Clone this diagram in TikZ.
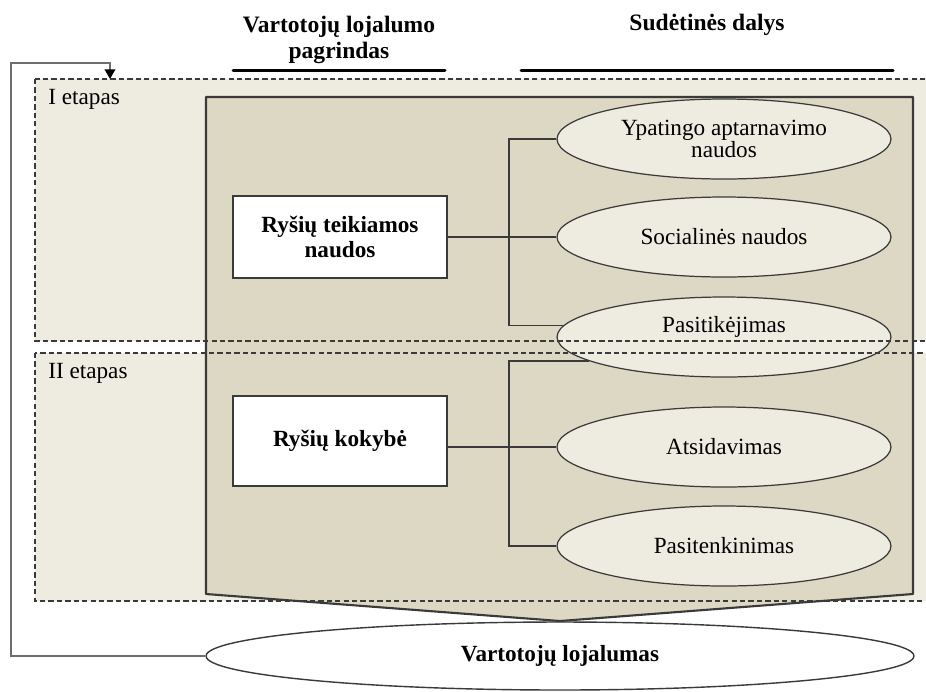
\documentclass[tikz,border=0pt]{standalone}
\usepackage{fontspec}
\setmainfont{Liberation Serif}
\usepackage{tkz-euclide}
\usetikzlibrary{shapes.geometric,arrows.meta}

\definecolor{etapfill}{HTML}{EEEBE0}
\definecolor{chevfill}{HTML}{DDD8C3}
\definecolor{linegray}{HTML}{3A3A3A}
\definecolor{backgray}{HTML}{6E6E6E}

\tikzset{
  txt/.style={inner sep=0pt, font=\fontsize{13.2}{13.5}\selectfont},
  hdr/.style={inner sep=0pt, align=center, font=\fontsize{13.4}{14.8}\selectfont\bfseries},
  part/.style={ellipse, draw=linegray, line width=0.7pt, fill=etapfill,
    minimum width=6.68cm, minimum height=1.6cm, inner sep=0pt, align=center,
    font=\fontsize{13.2}{13}\selectfont},
  basis/.style={rectangle, draw=linegray, line width=0.7pt, fill=white,
    minimum width=4.28cm, inner sep=0pt, align=center,
    font=\fontsize{13.2}{13.8}\selectfont\bfseries},
  etap/.style={draw=linegray, line width=0.85pt, dash pattern=on 3pt off 1.8pt},
  link/.style={draw=linegray, line width=0.7pt},
}

\begin{document}
\begin{tikzpicture}[x=0.02cm,y=-0.02cm]
                    \path[use as bounding box] (0,0) rectangle (926,691);
                    \tkzDefPoints{35/79/Ia,935/341/Ib,35/353/IIa,935/601/IIb}
                    \fill[etapfill] (Ia) rectangle (Ib);
                    \fill[etapfill] (IIa) rectangle (IIb);
                    \tkzDefPoints{206/97/A,913/97/B,913/594/C,560/621/D,206/594/E}
                    \tkzDrawPolygon[draw=linegray,fill=chevfill,line width=1.2pt](A,B,C,D,E)
                    \node[hdr] (basisHdr) at (339,40) {Vartotojų lojalumo\\pagrindas};
                    \node[hdr] (partsHdr) at (707,25) {Sudėtinės dalys};
                    \tkzDefPoints{233/70/P,445/70/Q,521/70/R,893/70/S}
                    \tkzDrawSegments[line width=1.7pt,color=black](P,Q R,S)
                    \node[txt,anchor=west] (etapI) at (48,99) {I etapas};
                    \node[txt,anchor=west] (etapII) at (48,373) {II etapas};
                    \node[basis,minimum height=1.64cm] (ryseNaud) at (340,237) {Ryšių teikiamos\\naudos};
                    \node[basis,minimum height=1.8cm] (ryseKok) at (340,441) {Ryšių kokybė};
                    \node[part] (ypat) at (724,139) {Ypatingo aptarnavimo\\naudos};
                    \node[part] (soc) at (724,237) {Socialinės naudos};
                    \node[part] (pasit) at (724,337) {};
                    \node[txt] (pasitTxt) at (724,327) {Pasitikėjimas};
                    \node[part] (atsid) at (724,447) {Atsidavimas};
                    \node[part] (pasiten) at (724,546) {Pasitenkinimas};
                    \coordinate (brk) at (509,0);
                    \draw[link] (ryseNaud.east |- soc.west) -- (soc.west);
                    \draw[link] (ypat.west) -- (ypat.west -| brk) -- (pasit.176 -| brk) -- (pasit.176);
                    \draw[link] (ryseKok.east |- atsid.west) -- (atsid.west);
                    \draw[link] (pasit.190) -- (pasit.190 -| brk) -- (pasiten.west -| brk) -- (pasiten.west);
                    \draw[etap] (Ia) rectangle (Ib);
                    \draw[etap] (IIa) rectangle (IIb);
                    \node[ellipse,draw=linegray,line width=0.8pt,fill=white,minimum width=14.16cm,
                      minimum height=1.36cm,inner sep=0pt,font=\fontsize{13.2}{13.5}\selectfont\bfseries]
                      (loyal) at (560,656) {Vartotojų lojalumas};
                    \coordinate (fbTurn) at (11,63);
                    \coordinate (fbEnd) at (110,79);
                    \draw[backgray,line width=1.1pt,-{Triangle[length=5.5pt,width=6pt,color=black]}]
                      (loyal.west) -| (fbTurn) -| (fbEnd);
                \end{tikzpicture}
\end{document}
